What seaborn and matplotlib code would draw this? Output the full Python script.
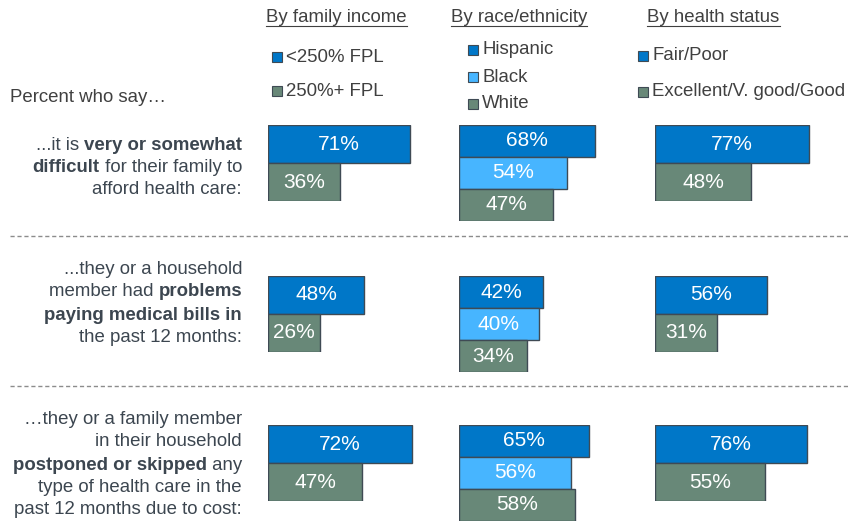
import pandas as pd
import seaborn as sns
import matplotlib.pyplot as plt
from matplotlib.patches import Rectangle

# survey values, one list per row of the chart
income_groups = ['<250% FPL', '250%+ FPL']
race_groups = ['Hispanic', 'Black', 'White']
health_groups = ['Fair/Poor', 'Excellent/V. good/Good']

income_vals = [[71, 36], [48, 26], [72, 47]]
race_vals = [[68, 54, 47], [42, 40, 34], [65, 56, 58]]
health_vals = [[77, 48], [56, 31], [76, 55]]

headers = ['By family income', 'By race/ethnicity', 'By health status']

row_labels = [
    [[('...it is ', False), ('very or somewhat', True)],
     [('difficult', True), (' for their family to', False)],
     [('afford health care:', False)]],
    [[('...they or a household', False)],
     [('member had ', False), ('problems', True)],
     [('paying medical bills in', True)],
     [('the past 12 months:', False)]],
    [[('\u2026they or a family member', False)],
     [('in their household', False)],
     [('postponed or skipped', True), (' any', False)],
     [('type of health care in the', False)],
     [('past 12 months due to cost:', False)]],
]

BLUE = '#0077C8'
LIGHT = '#47B5FF'
GREY = '#688878'
EDGE = '#3F4A54'
TEXT = '#3C4650'
W, H = 852, 521

plt.rcParams['font.family'] = 'Liberation Sans'


def draw_bars(vals, groups, colors, left, top):
    n = len(vals)
    h = 96 if n == 3 else 76
    ax = plt.axes([left / W, 1 - (top + h) / H, 180 / W, h / H])
    df = pd.DataFrame({'group': groups, 'pct': vals})
    sns.barplot(data=df, x='pct', y='group', hue='group', palette=dict(zip(groups, colors)),
                orient='h', width=1.0, saturation=1, edgecolor=EDGE, linewidth=1,
                legend=False, ax=ax)
    ax.set_xlim(0, 90)
    ax.set_ylim(n - 0.5, -0.5)
    ax.axis('off')
    for i, v in enumerate(vals):
        ax.text(v / 2, i, f'{v}%', color='white', ha='center', va='center', fontsize=15)
    return ax


def rich_line(ax, parts, x, y, size=13.4):
    prev = None
    for txt, bold in reversed(parts):
        weight = 'bold' if bold else 'normal'
        if prev is None:
            prev = ax.text(x, y, txt, ha='right', va='center', fontweight=weight,
                           fontsize=size, color=TEXT)
        else:
            prev = ax.annotate(txt, xy=(0, 0.5), xycoords=prev, ha='right', va='center',
                               fontweight=weight, fontsize=size, color=TEXT)


def legend_item(ax, label, color, x, y):
    ax.add_patch(Rectangle((x, y - 5), 10, 10, facecolor=color, edgecolor=EDGE, lw=0.8))
    ax.text(x + 14, y, label, ha='left', va='center', fontsize=13.4, color='#404040')


fig = plt.figure(figsize=(W / 100, H / 100), dpi=100)
base = plt.axes([0, 0, 1, 1])
base.set_xlim(0, W)
base.set_ylim(H, 0)
base.axis('off')

# column headers (underlined)
header_x = [336.5, 519, 713.5]
header_txt = [base.text(x, 18, t, ha='center', va='center', fontsize=13.4, color='#404040')
              for x, t in zip(header_x, headers)]

base.text(10, 98, 'Percent who say\u2026', ha='left', va='center', fontsize=13.4, color='#404040')

for lab, y, c in zip(income_groups, [57, 91], [BLUE, GREY]):
    legend_item(base, lab, c, 272, y)
for lab, y, c in zip(race_groups, [50, 77, 104], [BLUE, LIGHT, GREY]):
    legend_item(base, lab, c, 468, y)
for lab, y, c in zip(health_groups, [56, 92], [BLUE, GREY]):
    legend_item(base, lab, c, 638, y)

# separators between questions
for y in [236, 386]:
    base.plot([10, 850], [y, y], color='#8C8C8C', lw=1, linestyle=(0, (3, 2)))

row_tops = [125, 276, 425]
line_ys = [[146, 168, 190], [270, 292, 315, 337], [420, 442, 465, 487, 509]]

for r, top in enumerate(row_tops):
    draw_bars(income_vals[r], income_groups, [BLUE, GREY], 268, top)
    draw_bars(race_vals[r], race_groups, [BLUE, LIGHT, GREY], 459, top)
    draw_bars(health_vals[r], health_groups, [BLUE, GREY], 655, top)
    for parts, y in zip(row_labels[r], line_ys[r]):
        rich_line(base, parts, 242, y)

fig.canvas.draw()
for t in header_txt:
    bb = t.get_window_extent()
    base.plot([bb.x0, bb.x1], [H - bb.y0 - 1, H - bb.y0 - 1], color='#404040', lw=0.8)

plt.savefig('out.png', dpi=100)
